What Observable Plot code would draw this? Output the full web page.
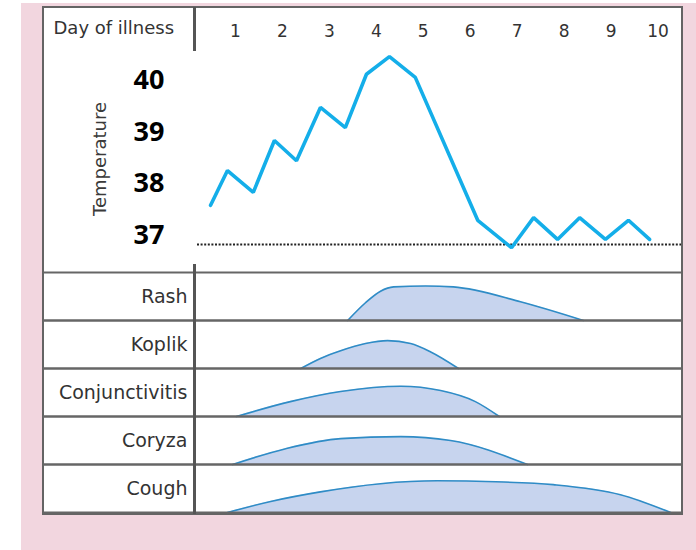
<!DOCTYPE html>
<html>
<head>
<meta charset="utf-8">
<script src="https://cdn.jsdelivr.net/npm/d3@7"></script>
<script src="https://cdn.jsdelivr.net/npm/@observablehq/plot@0.6"></script>
<style>
  html, body { margin: 0; padding: 0; background: #ffffff; }
  #page { position: relative; width: 696px; height: 550px; overflow: hidden; }
  #pink { position: absolute; left: 21px; top: 3px; width: 675px; height: 547px; background: #f2d6df; }
  #panel { position: absolute; left: 42px; top: 6px; width: 641px; height: 509px; box-sizing: border-box;
           border: 2px solid #646464; background: #ffffff; }
  .divider { position: absolute; left: 193px; width: 3px; background: #555555; }
  #temp { position: absolute; left: 43px; top: 7px; }
  #symp { position: absolute; left: 43px; top: 271px; }
  svg { overflow: visible; }
</style>
</head>
<body>
<div id="page">
  <div id="pink"></div>
  <div id="panel"></div>
  <div id="temp"></div>
  <div id="symp"></div>
  <div class="divider" style="top:7px;height:44px"></div>
  <div class="divider" style="top:264px;height:250px"></div>
</div>
<script>
// ---- data ----
const dayTicks = [1, 2, 3, 4, 5, 6, 7, 8, 9, 10];
const tempTicks = [37, 38, 39, 40];
const normalTemp = 37;

const tempDay = [0.47, 0.83, 1.38, 1.83, 2.30, 2.81, 3.34, 3.79, 4.28, 4.83, 6.16, 6.88, 7.35, 7.86, 8.33, 8.88, 9.37, 9.82];
const tempValue = [37.76, 38.43, 38.01, 39.01, 38.62, 39.65, 39.26, 40.29, 40.63, 40.23, 37.47, 36.94, 37.52, 37.10, 37.52, 37.10, 37.47, 37.10];

const symptoms = ["Rash", "Koplik", "Conjunctivitis", "Coryza", "Cough"];
const rashDay = [3.39, 3.77, 4.09, 4.37, 5.05, 5.64, 7.07, 8.41];
const rashLevel = [0, 0.37, 0.61, 0.70, 0.72, 0.70, 0.39, 0];
const koplikDay = [2.39, 2.81, 3.24, 3.77, 4.24, 4.73, 5.15, 5.75];
const koplikLevel = [0, 0.21, 0.37, 0.52, 0.58, 0.52, 0.35, 0];
const conjDay = [1.02, 2.17, 3.24, 4.52, 5.37, 6.11, 6.62];
const conjLevel = [0, 0.31, 0.52, 0.63, 0.54, 0.31, 0];
const coryzaDay = [0.94, 2.07, 3.24, 4.52, 5.58, 7.22];
const coryzaLevel = [0, 0.33, 0.54, 0.58, 0.50, 0];
const coughDay = [0.83, 1.75, 2.81, 4.09, 5.30, 6.54, 7.77, 9.20, 10.27];
const coughLevel = [0, 0.23, 0.43, 0.60, 0.66, 0.64, 0.58, 0.37, 0];

// ---- tables ----
const tempData = tempDay.map((d, i) => ({day: d, temp: tempValue[i]}));
const symptomSeries = [
  [symptoms[0], rashDay, rashLevel],
  [symptoms[1], koplikDay, koplikLevel],
  [symptoms[2], conjDay, conjLevel],
  [symptoms[3], coryzaDay, coryzaLevel],
  [symptoms[4], coughDay, coughLevel]
];
const symptomData = symptomSeries.flatMap(([name, days, levels]) =>
  days.map((d, i) => ({symptom: name, day: d, level: levels[i]})));

const xDomain = [0, 10.5];
const labelFont = "DejaVu Sans";

// ---- temperature panel ----
const tempPlot = Plot.plot({
  width: 638,
  height: 264,
  marginLeft: 145,
  marginRight: 0,
  marginTop: 30,
  marginBottom: 1,
  style: {background: "transparent", overflow: "visible"},
  x: {domain: xDomain},
  y: {domain: [36.5, 41]},
  marks: [
    Plot.axisX(dayTicks, {anchor: "top", tickSize: 0, tickPadding: 1, label: null, fontSize: 17, fontFamily: labelFont, fill: "#333", tickFormat: d => String(d)}),
    Plot.axisY(tempTicks, {anchor: "left", tickSize: 0, tickPadding: 24, dy: -9, label: null, fontSize: 27, fontWeight: "bold", fontFamily: "Open Sans", fill: "#000", tickFormat: d => String(d)}),
    Plot.text(["Day of illness"], {frameAnchor: "top-left", dx: -135, dy: -9, textAnchor: "start", lineAnchor: "middle", fontSize: 18, fontFamily: labelFont, fill: "#333"}),
    Plot.text(["Temperature"], {frameAnchor: "left", dx: -88, dy: 5, rotate: -90, textAnchor: "middle", lineAnchor: "middle", fontSize: 18, fontFamily: labelFont, fill: "#3a3a3a"}),
    Plot.ruleY([normalTemp], {stroke: "#222", strokeWidth: 2, strokeDasharray: "2,1.6", insetLeft: 9}),
    Plot.line(tempData, {x: "day", y: "temp", stroke: "#14aee9", strokeWidth: 3.6, strokeLinejoin: "miter"})
  ]
});
document.getElementById("temp").appendChild(tempPlot);

// ---- symptom rows ----
const sympPlot = Plot.plot({
  width: 638,
  height: 242,
  marginLeft: 145,
  marginRight: 0,
  marginTop: 0,
  marginBottom: 0,
  style: {background: "transparent", overflow: "visible"},
  x: {domain: xDomain, axis: null},
  y: {domain: [0, 1], axis: null},
  fy: {domain: symptoms, padding: 0, axis: null},
  marks: [
    Plot.areaY(symptomData, {fy: "symptom", x: "day", y: "level", curve: "monotone-x", fill: "#c7d4ee"}),
    Plot.lineY(symptomData, {fy: "symptom", x: "day", y: "level", curve: "monotone-x", stroke: "#2f8cc6", strokeWidth: 1.6}),
    Plot.ruleY([0, 1], {stroke: "#666", strokeWidth: 2, insetLeft: -145}),
    Plot.axisFy({anchor: "left", tickSize: 0, tickPadding: 1, fontSize: 19, fontFamily: labelFont, fill: "#333", label: null})
  ]
});
document.getElementById("symp").appendChild(sympPlot);
</script>
</body>
</html>
